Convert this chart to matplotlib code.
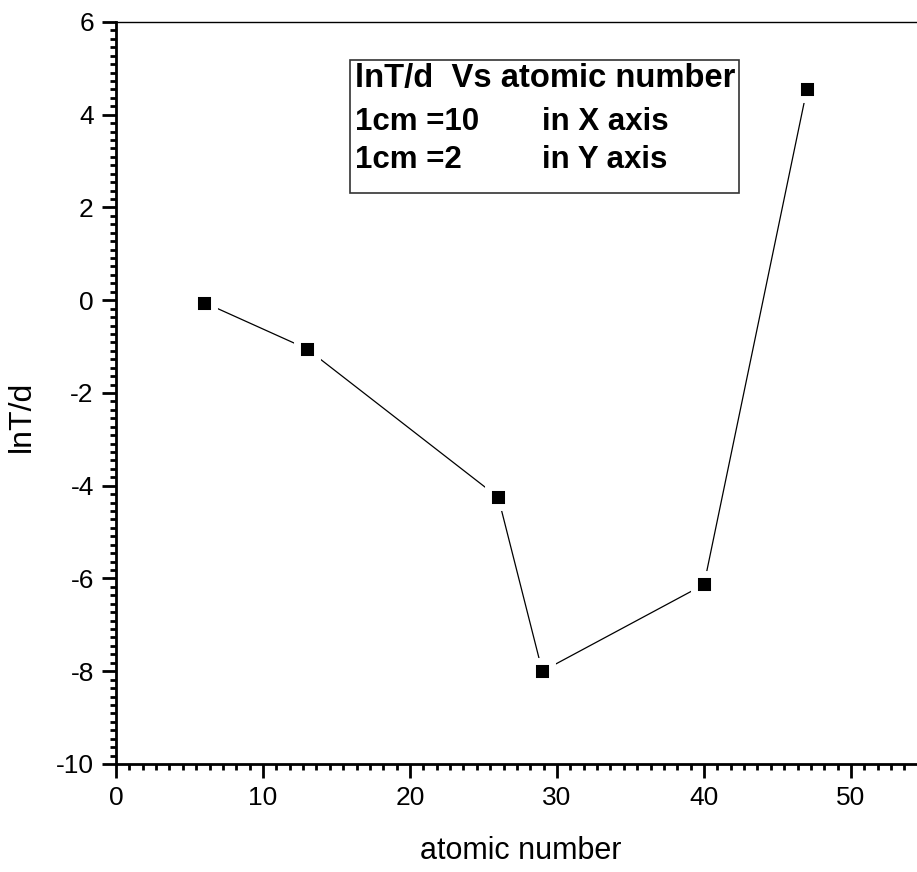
import matplotlib
matplotlib.use("Agg")
import matplotlib.pyplot as plt
from matplotlib.ticker import MultipleLocator
from matplotlib.patches import Rectangle

# atomic number vs lnT/d
atomic_number = [6, 13, 26, 29, 40, 47]
ln_t_over_d = [-0.05, -1.05, -4.25, -8.0, -6.13, 4.55]

x_ticks = [0, 10, 20, 30, 40, 50]
y_ticks = [-10, -8, -6, -4, -2, 0, 2, 4, 6]

box_lines = [("lnT/d  Vs atomic number", ""),
             ("1cm =10", "in X axis"),
             ("1cm =2", "in Y axis")]

plt.rcParams['font.family'] = ['Liberation Sans', 'DejaVu Sans']
plt.rcParams['axes.unicode_minus'] = False

fig = plt.figure(figsize=(9.17, 8.72), dpi=100)
# axes runs just past the right edge, like the cropped original
ax = fig.add_axes([0.1265, 0.1239, 0.8817, 0.8509])

ax.plot(atomic_number, ln_t_over_d, color='black', lw=0.9,
        marker='s', ms=15, mfc='black', mec='white', mew=5)

ax.set_xlim(0, 55)
ax.set_ylim(-10, 6)
ax.set_xticks(x_ticks)
ax.set_yticks(y_ticks)
ax.xaxis.set_minor_locator(MultipleLocator(10 / 11))
ax.yaxis.set_minor_locator(MultipleLocator(2 / 11))

ax.spines['right'].set_visible(False)
ax.spines['left'].set_linewidth(2)
ax.spines['bottom'].set_linewidth(2)
ax.spines['top'].set_linewidth(1)

ax.tick_params(which='major', direction='out', length=10, width=2,
               labelsize=19, pad=6)
ax.tick_params(which='minor', direction='out', length=4, width=2)
ax.tick_params(top=False, right=False)

ax.set_xlabel('atomic number', fontsize=22)
ax.set_ylabel('lnT/d', fontsize=23)
ax.xaxis.set_label_coords(0.5, -0.097)
ax.yaxis.set_label_coords(-0.0977, 0.469)

# legend style text box
bx0, bx1 = (350 - 116) / 808.5, (739 - 116) / 808.5
ax.add_patch(Rectangle((bx0, 0.7695), bx1 - bx0, 0.1793, transform=ax.transAxes,
                       fill=False, edgecolor='#333333', lw=1.2, clip_on=False))
ys = [0.924, 0.865, 0.814]
sizes = [23.6, 22.5, 22.5]
for (left, right), yy, fs in zip(box_lines, ys, sizes):
    ax.text((355 - 116) / 808.5, yy, left, transform=ax.transAxes, fontsize=fs,
            fontweight='bold', va='center', ha='left')
    if right:
        ax.text((542 - 116) / 808.5, yy, right, transform=ax.transAxes, fontsize=fs,
                fontweight='bold', va='center', ha='left')

fig.savefig('out.png', dpi=100)
